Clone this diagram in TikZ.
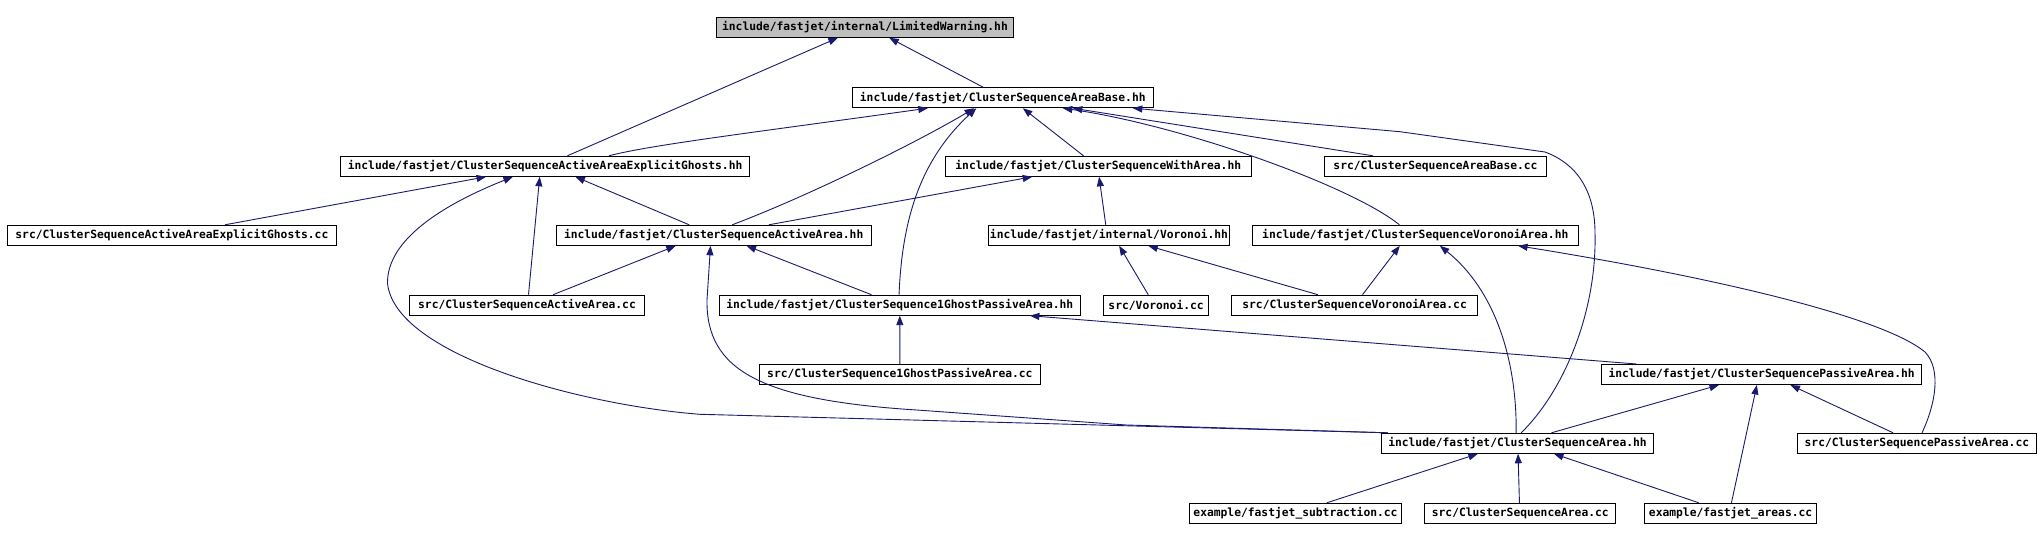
\documentclass[tikz,border=0pt]{standalone}
\usepackage{fontspec}
\setmonofont{DejaVu Sans Mono}
\usetikzlibrary{arrows.meta}
\definecolor{edgeblue}{HTML}{191970}
\definecolor{rootgray}{HTML}{BFBFBF}
\begin{document}
\begin{tikzpicture}[x=1pt,y=-1pt,
  file/.style={draw=black, line width=1pt, inner sep=0pt, minimum height=20pt,
    font=\ttfamily\bfseries\fontsize{11.3}{12}\selectfont, fill=white},
  root/.style={file, fill=rootgray},
  edge/.style={draw=edgeblue, line width=0.9pt, -{Triangle[length=9.5pt,width=7pt]}}]
\useasboundingbox (0,0) rectangle (2038,540);
\fill[white] (0,0) rectangle (2038,540);

\node[root, minimum width=297] (lw) at (865,27.3) {include/fastjet/internal/LimitedWarning.hh};
\node[file, minimum width=301] (ab) at (1002.8,97.7) {include/fastjet/ClusterSequenceAreaBase.hh};
\node[file, minimum width=409] (eg) at (545.1,166.3) {include/fastjet/ClusterSequenceActiveAreaExplicitGhosts.hh};
\node[file, minimum width=305.4] (wa) at (1098.3,166.3) {include/fastjet/ClusterSequenceWithArea.hh};
\node[file, minimum width=221.7] (abcc) at (1435.5,166.3) {src/ClusterSequenceAreaBase.cc};
\node[file, minimum width=328.6] (egcc) at (171.9,235.3) {src/ClusterSequenceActiveAreaExplicitGhosts.cc};
\node[file, minimum width=314.8] (aa) at (713.7,235.3) {include/fastjet/ClusterSequenceActiveArea.hh};
\node[file, minimum width=241.1] (vor) at (1109,235.3) {include/fastjet/internal/Voronoi.hh};
\node[file, minimum width=326.1] (va) at (1415.3,235.3) {include/fastjet/ClusterSequenceVoronoiArea.hh};
\node[file, minimum width=235.2] (aacc) at (527,305.2) {src/ClusterSequenceActiveArea.cc};
\node[file, minimum width=361.1] (gp) at (899.8,305.2) {include/fastjet/ClusterSequence1GhostPassiveArea.hh};
\node[file, minimum width=104.9] (vorcc) at (1156.1,305.2) {src/Voronoi.cc};
\node[file, minimum width=246.6] (vacc) at (1354.6,305.2) {src/ClusterSequenceVoronoiArea.cc};
\node[file, minimum width=280.8] (gpcc) at (899.9,374.5) {src/ClusterSequence1GhostPassiveArea.cc};
\node[file, minimum width=319.3] (pa) at (1761.6,374.5) {include/fastjet/ClusterSequencePassiveArea.hh};
\node[file, minimum width=271.7] (csa) at (1517.5,443.3) {include/fastjet/ClusterSequenceArea.hh};
\node[file, minimum width=238.7] (pacc) at (1916.9,443.3) {src/ClusterSequencePassiveArea.cc};
\node[file, minimum width=212.2] (sub) at (1295.5,513.3) {example/fastjet\_subtraction.cc};
\node[file, minimum width=191.1] (csacc) at (1520.3,513.3) {src/ClusterSequenceArea.cc};
\node[file, minimum width=172.3] (areas) at (1730.6,513.3) {example/fastjet\_areas.cc};

\draw[edge] ([xshift=227.3pt]eg.north west) -- ([xshift=121.9pt]lw.south west);
\draw[edge] ([xshift=131.3pt]ab.north west) -- ([xshift=173.2pt]lw.south west);
\draw[edge] ([xshift=268.8pt]eg.north west) .. controls (650,145) and (750,133) .. ([xshift=76pt]ab.south west);
\draw[edge] ([xshift=176.4pt]aa.north west) .. controls (812.7,194.4) and (924.6,138.2) .. ([xshift=122.3pt]ab.south west);
\draw[edge] ([xshift=180.3pt]gp.north west) .. controls (902,220) and (920,160) .. ([xshift=124.6pt]ab.south west);
\draw[edge] ([xshift=138.4pt]wa.north west) -- ([xshift=171pt]ab.south west);
\draw[edge] ([xshift=48.9pt]abcc.north west) -- ([xshift=221pt]ab.south west);
\draw[edge] ([xshift=147.7pt]va.north west) .. controls (1350,185) and (1180,125) .. ([xshift=211pt]ab.south west);
\draw[edge] ([xshift=140pt]csa.north west) .. controls (1565,390) and (1597,310) .. (1595,233) .. controls (1595,195) and (1580,165) .. (1545,152) -- (1400,131.7) -- ([xshift=281pt]ab.south west);
\draw[edge] ([xshift=217.8pt]egcc.north west) -- ([xshift=146pt]eg.south west);
\draw[edge] ([xshift=119.6pt]aacc.north west) -- ([xshift=199.6pt]eg.south west);
\draw[edge] ([xshift=133.4pt]aa.north west) -- ([xshift=235.3pt]eg.south west);
\draw[edge] ([xshift=6.6pt]csa.north west) -- (700,414.3) .. controls (580,405) and (395,355) .. (387.5,283.3) .. controls (387,245) and (430,210) .. ([xshift=172.8pt]eg.south west);
\draw[edge] ([xshift=6.6pt]csa.north west) -- (1126.4,425) -- (916.6,410) .. controls (760,400) and (706,370) .. (707,300) -- ([xshift=154.7pt]aa.south west);
\draw[edge] ([xshift=144.2pt]aacc.north west) -- ([xshift=120pt]aa.south west);
\draw[edge] ([xshift=152.7pt]gp.north west) -- ([xshift=190.7pt]aa.south west);
\draw[edge] ([xshift=213pt]aa.north west) -- ([xshift=87.1pt]wa.south west);
\draw[edge] ([xshift=117.8pt]vor.north west) -- ([xshift=154pt]wa.south west);
\draw[edge] ([xshift=45.1pt]vorcc.north west) -- ([xshift=131.2pt]vor.south west);
\draw[edge] ([xshift=87.1pt]vacc.north west) -- ([xshift=160.3pt]vor.south west);
\draw[edge] ([xshift=131.7pt]vacc.north west) -- ([xshift=148pt]va.south west);
\draw[edge] ([xshift=135pt]csa.north west) .. controls (1517,360) and (1495,290) .. ([xshift=188.1pt]va.south west);
\draw[edge] ([xshift=125pt]pacc.north west) .. controls (1935,405) and (1942,370) .. (1925,352) .. controls (1880,315) and (1700,275) .. ([xshift=266.3pt]va.south west);
\draw[edge] ([xshift=35pt]pa.north west) -- ([xshift=311.1pt]gp.south west);
\draw[edge] (gpcc.north) -- (gp.south);
\draw[edge] ([xshift=170.3pt]csa.north west) -- ([xshift=117.5pt]pa.south west);
\draw[edge] ([xshift=87.5pt]areas.north west) -- ([xshift=155.4pt]pa.south west);
\draw[edge] ([xshift=96pt]pacc.north west) -- ([xshift=189pt]pa.south west);
\draw[edge] ([xshift=137.9pt]sub.north west) -- ([xshift=96.7pt]csa.south west);
\draw[edge] ([xshift=95.2pt]csacc.north west) -- ([xshift=136.9pt]csa.south west);
\draw[edge] ([xshift=54.9pt]areas.north west) -- ([xshift=172.8pt]csa.south west);
\end{tikzpicture}
\end{document}
